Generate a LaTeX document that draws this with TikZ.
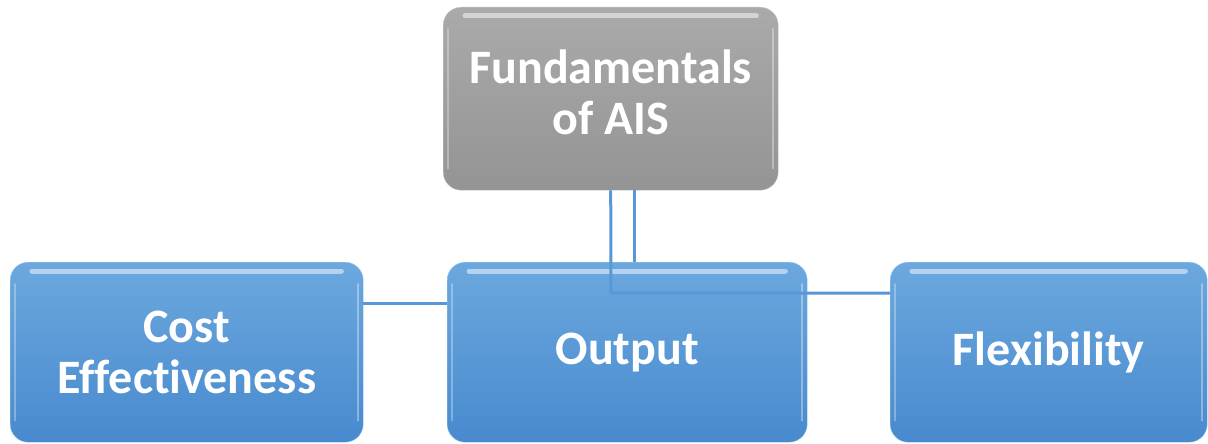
\documentclass[tikz,border=0pt]{standalone}
\usepackage{fontspec}
\setmainfont{Carlito}[RawFeature=-liga]
\tikzset{
  x=1pt,y=-1pt,
  boxbase/.style={rectangle, rounded corners=18pt, anchor=north west, inner sep=0pt,
    align=center, text=white, font=\bfseries\fontsize{48}{51}\selectfont, draw=#1},
  bluebox/.style={boxbase=bluedge, top color=bluetop, bottom color=bluebot},
  graybox/.style={boxbase=grayedge, top color=graytop, bottom color=graybot},
  conn/.style={draw=connc, line width=3pt},
  gloss/.style={white, line width=5pt, line cap=round, opacity=0.5},
}
\definecolor{bluetop}{RGB}{108,168,222}
\definecolor{bluebot}{RGB}{72,138,206}
\definecolor{bluedge}{RGB}{150,200,240}
\definecolor{graytop}{RGB}{170,170,170}
\definecolor{graybot}{RGB}{148,148,148}
\definecolor{grayedge}{RGB}{200,200,200}
\definecolor{connc}{RGB}{88,152,214}
\begin{document}
\begin{tikzpicture}
\useasboundingbox (0,0) rectangle (1208,444);
\fill[white] (0,0) rectangle (1208,444);
\node[graybox, minimum width=335pt, minimum height=183pt] (top) at (443,7) {\raisebox{5pt}{\begin{tabular}{@{}c@{}}Fundamentals\\of AIS\end{tabular}}};
\node[bluebox, minimum width=353pt, minimum height=180pt] (cost) at (10,262) {Cost\\Effectiveness};
\node[bluebox, minimum width=360pt, minimum height=180pt] (mid) at (447,262) {\raisebox{-2pt}{Output}};
\node[bluebox, minimum width=317pt, minimum height=180pt] (flex) at (890,262) {\raisebox{-2pt}{Flexibility}};
\foreach \n in {top,cost,mid,flex}{
  \draw[gloss] ([xshift=22pt,yshift=-9pt]\n.north west) -- ([xshift=-22pt,yshift=-9pt]\n.north east);
  \draw[gloss, line width=2pt, opacity=0.35] ([xshift=-5pt,yshift=-22pt]\n.north east) -- ([xshift=-5pt,yshift=22pt]\n.south east);
  \draw[gloss, line width=2pt, opacity=0.3] ([xshift=5pt,yshift=-22pt]\n.north west) -- ([xshift=5pt,yshift=22pt]\n.south west);
}
\coordinate (j) at (611,293);
\coordinate (ly) at (0,303);
\draw[conn] (top.south) -- (j) -- (j -| flex.west);
\draw[conn] ([xshift=24pt]top.south) -- ([xshift=24pt]top.south |- mid.north);
\draw[conn] (cost.east |- ly) -- (mid.west |- ly);
\end{tikzpicture}
\end{document}
